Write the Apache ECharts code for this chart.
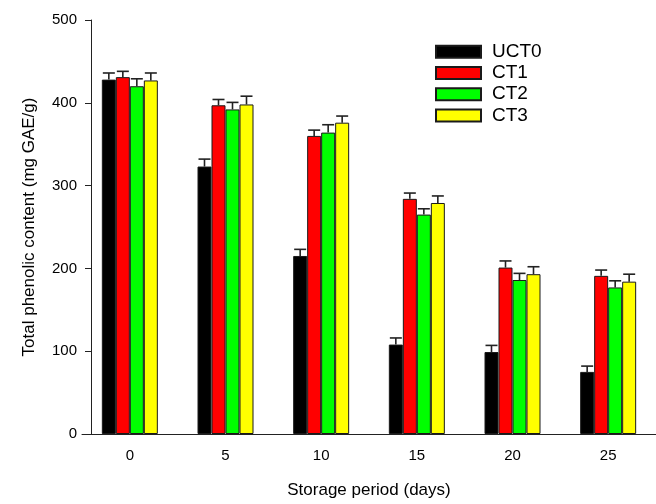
<!DOCTYPE html>
<html>
<head>
<meta charset="utf-8">
<script src="https://cdn.jsdelivr.net/npm/echarts@6/dist/echarts.min.js"></script>
<style>
html,body{margin:0;padding:0;background:#fff;}
#chart{width:656px;height:504px;}
</style>
</head>
<body>
<div id="chart"></div>
<script>
var days = ['0', '5', '10', '15', '20', '25'];
var seriesNames = ['UCT0', 'CT1', 'CT2', 'CT3'];
var uct0 = [428, 323, 215, 108, 99, 75];
var ct1 = [431, 397, 360, 284, 201, 191];
var ct2 = [420, 392, 364, 265, 186, 177];
var ct3 = [427, 398, 376, 279, 193, 184];
var uct0Err = [8, 9, 8, 8, 8, 7];
var ct1Err = [7, 7, 7, 7, 8, 7];
var ct2Err = [9, 8.5, 9.5, 7, 8, 8];
var ct3Err = [9, 10, 8, 8.5, 9, 9];
var yTicks = [0, 100, 200, 300, 400, 500];

var values = [uct0, ct1, ct2, ct3];
var errs = [uct0Err, ct1Err, ct2Err, ct3Err];
var colors = ['#000000', '#ff0000', '#00ff00', '#ffff00'];
var BAR_W = 14;
var FONT = '"Liberation Sans", Arial, sans-serif';

var series = [];
values.forEach(function (vals, k) {
  series.push({
    name: seriesNames[k],
    type: 'bar',
    data: vals,
    barWidth: BAR_W,
    barGap: '0%',
    itemStyle: { color: colors[k], borderColor: '#1a1a1a', borderWidth: 1 },
    z: 2
  });
});
values.forEach(function (vals, k) {
  var d = vals.map(function (v, i) { return [i, v, errs[k][i]]; });
  series.push({
    type: 'custom',
    name: seriesNames[k] + ' err',
    data: d,
    z: 3,
    silent: true,
    encode: { x: 0, y: 1 },
    renderItem: function (params, api) {
      var i = api.value(0), v = api.value(1), e = api.value(2);
      var base = api.coord([i, v]);
      var top = api.coord([i, v + e]);
      var x = base[0] + (k - 1.5) * BAR_W;
      var half = 6;
      var st = { stroke: '#222', lineWidth: 1.6 };
      return {
        type: 'group',
        children: [
          { type: 'line', shape: { x1: x, y1: base[1], x2: x, y2: top[1] }, style: st },
          { type: 'line', shape: { x1: x - half, y1: top[1], x2: x + half, y2: top[1] }, style: st }
        ]
      };
    }
  });
});

var chart = echarts.init(document.getElementById('chart'), null, { renderer: 'canvas' });
chart.setOption({
  animation: false,
  backgroundColor: '#ffffff',
  textStyle: { fontFamily: FONT },
  grid: { left: 82, right: 0, top: 20, bottom: 70 },
  legend: {
    data: seriesNames,
    orient: 'vertical',
    left: 435,
    top: 41,
    padding: 0,
    icon: 'rect',
    itemWidth: 45,
    itemHeight: 12,
    itemGap: 0,
    textStyle: { fontSize: 19, lineHeight: 21.3, color: '#000', fontFamily: FONT, padding: [0, 0, 0, 6] }
  },
  xAxis: {
    type: 'category',
    data: days,
    name: 'Storage period (days)',
    nameLocation: 'middle',
    nameGap: 48,
    nameTextStyle: { fontSize: 17, color: '#000', fontFamily: FONT },
    axisLine: { lineStyle: { color: '#222', width: 1 } },
    axisTick: { alignWithLabel: true, length: 6, lineStyle: { color: '#222' } },
    axisLabel: { fontSize: 15, color: '#000', margin: 14, fontFamily: FONT },
    splitLine: { show: false }
  },
  yAxis: {
    type: 'value',
    min: yTicks[0],
    max: yTicks[yTicks.length - 1],
    interval: 100,
    offset: -9,
    name: 'Total phenolic content (mg GAE/g)',
    nameLocation: 'middle',
    nameGap: 53,
    nameTextStyle: { fontSize: 17, color: '#000', fontFamily: FONT },
    axisLine: { show: true, lineStyle: { color: '#222', width: 1 } },
    axisTick: { show: true, length: 6, lineStyle: { color: '#222' } },
    axisLabel: { fontSize: 15, color: '#000', margin: 14, fontFamily: FONT },
    splitLine: { show: false }
  },
  series: series
});
</script>
</body>
</html>
